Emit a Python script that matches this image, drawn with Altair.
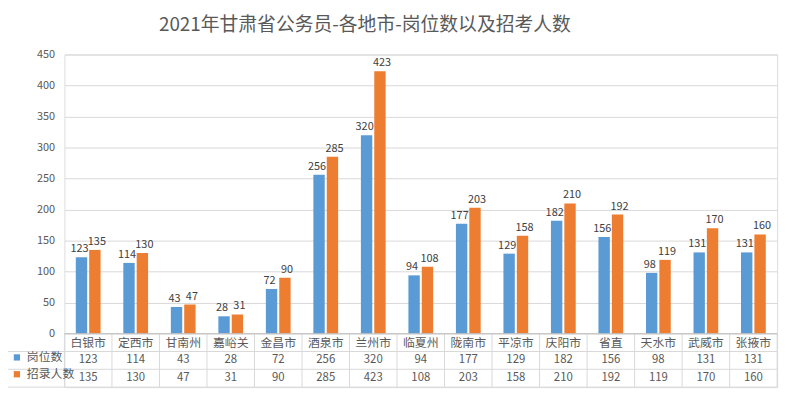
import altair as alt
import pandas as pd

title = "2021年甘肃省公务员-各地市-岗位数以及招考人数"
cities = ["白银市", "定西市", "甘南州", "嘉峪关", "金昌市", "酒泉市", "兰州市", "临夏州",
          "陇南市", "平凉市", "庆阳市", "省直", "天水市", "武威市", "张掖市"]
series_names = ["岗位数", "招录人数"]
posts = [123, 114, 43, 28, 72, 256, 320, 94, 177, 129, 182, 156, 98, 131, 131]
applicants = [135, 130, 47, 31, 90, 285, 423, 108, 203, 158, 210, 192, 119, 170, 160]
y_ticks = [0, 50, 100, 150, 200, 250, 300, 350, 400, 450]
colors = ["#5B9BD5", "#ED7D31"]

FONT = "Noto Sans CJK SC"
TXT = "#595959"
LINE = "#D9D9D9"
W, HP, HT = 720, 282, 54
H = HP + HT

n = len(cities)
long = pd.DataFrame({
    "city": cities * 2,
    "series": [series_names[0]] * n + [series_names[1]] * n,
    "value": posts + applicants,
})
long["row"] = long["series"].map({series_names[0]: 1.5, series_names[1]: 2.5})

cat_df = pd.DataFrame({"city": cities, "row": [0.5] * n})
vline_df = pd.DataFrame({"city": cities, "r0": [0] * n, "r1": [3] * n})
hline_df = pd.DataFrame({"row": [1, 2, 3]})
top_df = pd.DataFrame({"row": [0]})

xscale = alt.Scale(domain=cities, paddingInner=0, paddingOuter=0)
x = alt.X("city:N", sort=cities, scale=xscale, axis=None)
yv = alt.Y("value:Q", scale=alt.Scale(domain=[0, 450], range=[HP, 0], nice=False),
           axis=alt.Axis(values=y_ticks, title=None, grid=True, gridColor=LINE, ticks=False,
                         domain=False, labelColor=TXT, labelFontSize=11, labelPadding=10,
                         labelFont=FONT))
xo = alt.XOffset("series:N", sort=series_names,
                 scale=alt.Scale(domain=series_names, paddingInner=0.15, paddingOuter=0.85))

base = alt.Chart(long)
bars = base.mark_bar().encode(
    x=x, xOffset=xo, y=yv,
    color=alt.Color("series:N", sort=series_names,
                    scale=alt.Scale(domain=series_names, range=colors),
                    legend=alt.Legend(title=None, orient="none", legendX=-54, legendY=300,
                                      direction="vertical", symbolType="square", symbolSize=40,
                                      labelFontSize=12, labelColor=TXT, labelFont=FONT,
                                      rowPadding=5, symbolStrokeWidth=0)),
)
lab_a = base.transform_filter(alt.datum.series == series_names[0]).mark_text(
    dy=-8, dx=-2, fontSize=11, color="#404040", font=FONT).encode(
    x=x, xOffset=xo, y=yv, text="value:Q")
lab_b = base.transform_filter(alt.datum.series == series_names[1]).mark_text(
    dy=-8, dx=2, fontSize=11, color="#404040", font=FONT).encode(
    x=x, xOffset=xo, y=yv, text="value:Q")
bar_layer = alt.layer(bars, lab_a, lab_b)

rowscale = alt.Scale(domain=[0, 3], range=[HP, H], nice=False, zero=False)
yrow = alt.Y("row:Q", scale=rowscale, axis=None)
cells = alt.Chart(long).mark_text(fontSize=11.5, color=TXT, font=FONT).encode(
    x=x, y=yrow, text="value:Q")
cats = alt.Chart(cat_df).mark_text(fontSize=12, color=TXT, font=FONT).encode(
    x=x, y=yrow, text="city:N")
vlines = alt.Chart(vline_df).mark_rule(color=LINE, strokeWidth=1).encode(
    x=alt.X("city:N", sort=cities, scale=xscale, axis=None, bandPosition=0),
    y=alt.Y("r0:Q", scale=rowscale, axis=None),
    y2="r1:Q")
rline = alt.Chart(vline_df.head(1)).mark_rule(color=LINE, strokeWidth=1).encode(
    x=alt.value(W),
    y=alt.Y("r0:Q", scale=rowscale, axis=None),
    y2="r1:Q")
hlines = alt.Chart(hline_df).mark_rule(color=LINE, strokeWidth=1).encode(
    x=alt.value(-60), x2=alt.value(W), y=yrow)
topline = alt.Chart(top_df).mark_rule(color="#BFBFBF", strokeWidth=1).encode(
    x=alt.value(0), x2=alt.value(W), y=yrow)
table_layer = alt.layer(vlines, rline, hlines, topline, cats, cells)

chart = alt.layer(bar_layer, table_layer).resolve_scale(y="independent").properties(
    width=W, height=H,
    title=alt.TitleParams(text=title, fontSize=19, fontWeight="normal", color=TXT, font=FONT,
                          anchor="start", dx=156, offset=14),
    autosize=alt.AutoSizeParams(type="none"),
    padding={"left": 57, "top": 45, "right": 15, "bottom": 9},
).configure_view(stroke=None).configure(font=FONT, background="white")

chart.save("out.html", embed_options={"renderer": "svg", "actions": False})
